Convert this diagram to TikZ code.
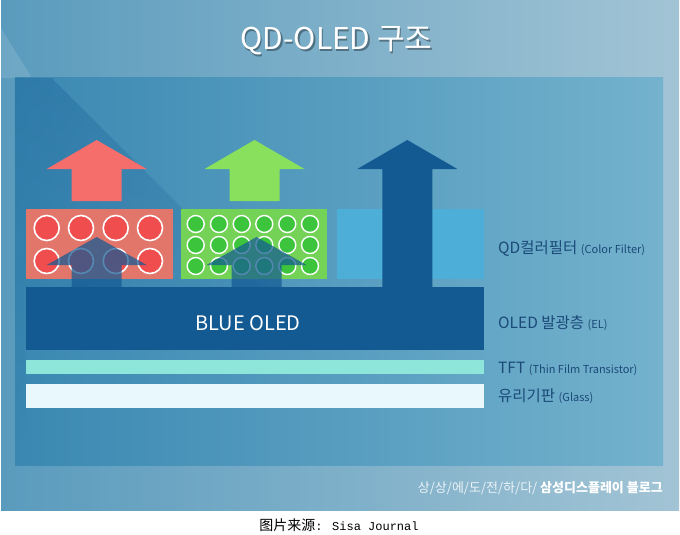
\documentclass[tikz,border=0pt]{standalone}
\usepackage{fontspec}
\setmainfont{Noto Sans CJK KR}
\newfontfamily\zhfont{Noto Sans CJK SC}
\newfontfamily\capmono{Liberation Mono}
\usetikzlibrary{fadings}

\definecolor{panelleft}{HTML}{5A9BBD}
\definecolor{panelright}{HTML}{A2C4D5}
\definecolor{innerleft}{HTML}{3A88B2}
\definecolor{innerright}{HTML}{74B2CD}
\definecolor{redarrow}{HTML}{F56E6C}
\definecolor{redbox}{HTML}{E2766A}
\definecolor{reddot}{HTML}{F04E4E}
\definecolor{greenarrow}{HTML}{88E05C}
\definecolor{greenbox}{HTML}{74D257}
\definecolor{greendot}{HTML}{3CC43C}
\definecolor{cfblue}{HTML}{4DAED8}
\definecolor{oledblue}{HTML}{135A93}
\definecolor{tftcyan}{HTML}{8DE6D9}
\definecolor{glasswhite}{HTML}{E9F8FC}
\definecolor{labelnavy}{HTML}{1B4A78}

% up arrow: centre x, tip y, head base y, foot y
\newcommand{\uparr}[4]{(#1-25,#4) -- (#1-25,#3) -- (#1-50,#3) -- (#1,#2) -- (#1+50,#3) -- (#1+25,#3) -- (#1+25,#4) -- cycle}

\begin{document}
\begin{tikzpicture}[x=1pt,y=-1pt,
  reddot/.style={fill=reddot,draw=white,line width=1.6pt},
  greendot/.style={fill=greendot,draw=white,line width=1.4pt},
  sidelabel/.style={anchor=base west,text=labelnavy,inner sep=0pt}]
\useasboundingbox (0,0) rectangle (680,535);
\fill[white] (0,0) rectangle (680,535);

% background
\fill[left color=panelleft,right color=panelright] (1,0) rectangle (679,510);
\fill[white,opacity=.12] (1,28) -- (32,78) -- (1,78) -- cycle;
\fill[left color=innerleft,right color=innerright] (15,78) rectangle (663,465);
\fill[oledblue,opacity=.3,path fading=south] (15,78) -- (52,78) -- (262,288) -- (26,288) -- (26,440) -- (15,440) -- cycle;

% title
\node[anchor=base,text=black,opacity=.35,font=\fontsize{30}{30}\selectfont] at (338,51.5) {QD-OLED 구조};
\node[anchor=base,text=white,font=\fontsize{30}{30}\selectfont] (title) at (336.5,50) {QD-OLED 구조};

% light leaving the colour filter
\fill[redarrow] \uparr{96.7}{140}{169}{201};
\fill[greenarrow] \uparr{254.5}{140}{169}{201};

% colour filter
\fill[redbox] (26,209) rectangle (173,279);
\fill[greenbox] (181,209) rectangle (327,279);
\fill[cfblue] (337,209) rectangle (484,279);
\foreach \cx in {46.7,81,115.7,150}
  \foreach \cy in {228,261}
    \draw[reddot] (\cx,\cy) circle[radius=12.5pt];
\foreach \cx in {195.7,219,241.7,264.3,287.3,310}
  \foreach \cy in {224,245,266}
    \draw[greendot] (\cx,\cy) circle[radius=8.5pt];

% blue light from the OLED
\fill[oledblue,opacity=.72] \uparr{96.7}{237}{265}{288};
\fill[oledblue,opacity=.72] \uparr{256.5}{237}{265}{288};
\fill[oledblue] \uparr{407.3}{140}{169}{288};

% layers
\fill[oledblue] (26,287) rectangle (484,350);
\node[anchor=base,text=white,font=\fontsize{20}{20}\selectfont] (oled) at (248,330) {BLUE OLED};
\fill[tftcyan] (26,360) rectangle (484,374);
\fill[glasswhite] (26,384) rectangle (484,408);

% labels
\node[sidelabel] (cflabel) at (498,253) {\fontsize{15.5}{15}\selectfont QD컬러필터 \fontsize{11}{11}\selectfont(Color Filter)};
\node[sidelabel] (ellabel) at (498,328) {\fontsize{15.5}{15}\selectfont OLED 발광층 \fontsize{11}{11}\selectfont(EL)};
\node[sidelabel] (tftlabel) at (498,373) {\fontsize{15.5}{15}\selectfont TFT \fontsize{11}{11}\selectfont(Thin Film Transistor)};
\node[sidelabel] (glasslabel) at (498,401) {\fontsize{15.5}{15}\selectfont 유리기판 \fontsize{11}{11}\selectfont(Glass)};

% footer
\node[anchor=base east,inner sep=0pt,font=\fontsize{13}{13}\selectfont] (blog) at (663,492)
  {\textcolor{white!80!panelright}{상/상/에/도/전/하/다/} \textcolor{white}{\bfseries 삼성디스플레이 블로그}};
\node[anchor=base,inner sep=0pt] (source) at (339,530)
  {\zhfont\fontsize{14}{14}\selectfont 图片来源\capmono\fontsize{12}{12}\selectfont: Sisa Journal};
\end{tikzpicture}
\end{document}
